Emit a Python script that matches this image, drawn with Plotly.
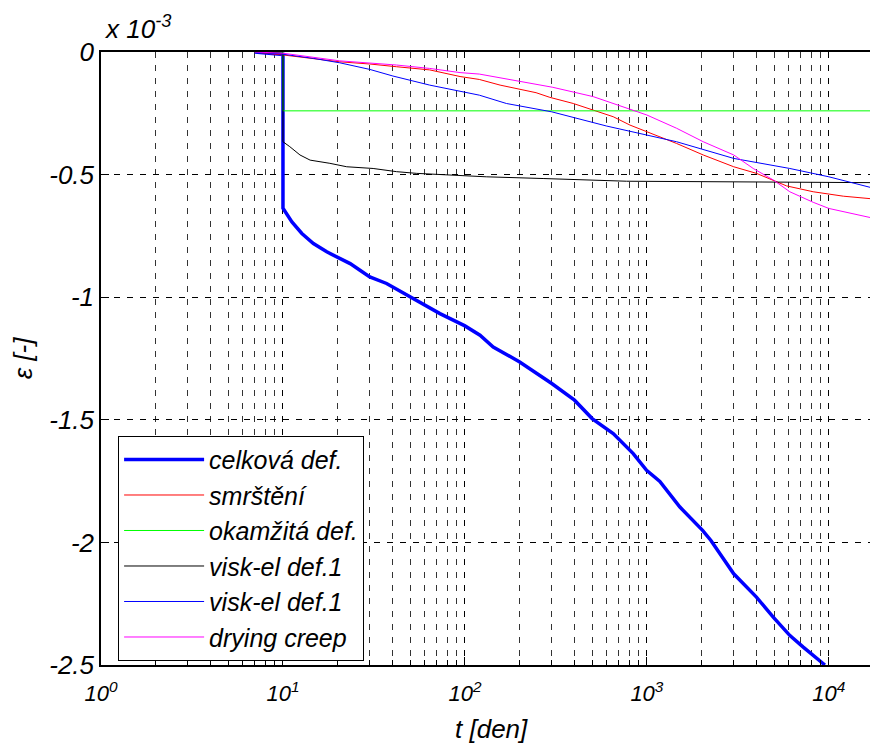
import plotly.graph_objects as go

# values in units of 1e-3
t_total = [7.0, 8.5, 10.0, 10.0, 11.2, 12.7, 14.7, 17.4, 20, 23.4, 26.5, 30, 37.1, 50.5, 60.8, 72.9, 100,
           121, 143, 200, 300, 400, 500, 653, 841, 996, 1178, 1518, 2023, 2248, 3000, 4000, 4946, 6110, 7230, 9510]
v_total = [0.0, -0.005, -0.01, -0.637, -0.693, -0.74, -0.781, -0.815, -0.838, -0.863, -0.89, -0.917, -0.944, -0.999,
           -1.033, -1.067, -1.117, -1.155, -1.203, -1.264, -1.352, -1.42, -1.495, -1.556, -1.638, -1.706, -1.751,
           -1.856, -1.951, -1.992, -2.128, -2.223, -2.305, -2.38, -2.427, -2.5]

t_shrink = [7.0, 10, 20.5, 30, 42, 64, 94, 120, 156, 246, 293, 394, 507, 653, 807, 1000, 1456, 2040, 3000,
            4000, 4950, 5850, 8200, 12000, 18600]
v_shrink = [0.0, -0.012, -0.04, -0.049, -0.06, -0.073, -0.1, -0.112, -0.135, -0.166, -0.185, -0.21, -0.237,
            -0.264, -0.298, -0.325, -0.373, -0.42, -0.468, -0.495, -0.522, -0.546, -0.57, -0.588, -0.601]

t_inst = [7.0, 10.0, 10.0, 18600]
v_inst = [0.0, 0.0, -0.24, -0.24]

t_ve1 = [7.0, 10.0, 10.0, 10.9, 12.4, 14.1, 18.1, 22.4, 31.3, 42.1, 54.3, 82.8, 94, 131, 269, 773, 18600]
v_ve1 = [0.0, -0.005, -0.366, -0.386, -0.42, -0.441, -0.454, -0.468, -0.475, -0.488, -0.495, -0.502, -0.502,
         -0.509, -0.516, -0.527, -0.533]

t_ve2 = [7.0, 10, 14.7, 20.5, 30, 40.2, 64, 94, 120, 169, 300, 601, 1000, 1456, 3000, 6100, 10000, 18600]
v_ve2 = [0.0, -0.009, -0.026, -0.044, -0.071, -0.098, -0.135, -0.162, -0.176, -0.21, -0.244, -0.302, -0.339,
         -0.366, -0.434, -0.475, -0.509, -0.56]

t_dry = [7.0, 10, 20.5, 30, 42, 64, 94, 120, 162, 304, 507, 773, 1000, 1456, 2040, 3000, 3840, 4950, 6100,
         8200, 10000, 18600]
v_dry = [0.0, -0.005, -0.036, -0.045, -0.053, -0.067, -0.084, -0.09, -0.107, -0.144, -0.182, -0.23, -0.257,
         -0.311, -0.366, -0.42, -0.475, -0.522, -0.57, -0.613, -0.638, -0.682]

names = ["celková def.", "smrštění", "okamžitá def.", "visk-el def.1", "visk-el def.1", "drying creep"]

x_major = [1, 10, 100, 1000, 10000]
x_major_text = ["10<sup>0</sup>", "10<sup>1</sup>", "10<sup>2</sup>", "10<sup>3</sup>", "10<sup>4</sup>"]
x_minor = [m * 10 ** k for k in range(0, 5) for m in range(2, 10)]
y_ticks = [0, -0.5, -1, -1.5, -2, -2.5]
y_text = ["0", "-0.5", "-1", "-1.5", "-2", "-2.5"]

FONT = "Liberation Sans, Arial, sans-serif"
FS = 26

fig = go.Figure()
series = [
    (t_total, v_total, "#0000ff", 3.5),
    (t_shrink, v_shrink, "#ff0000", 1),
    (t_inst, v_inst, "#00ff00", 1),
    (t_ve1, v_ve1, "#000000", 1),
    (t_ve2, v_ve2, "#0000ff", 1),
    (t_dry, v_dry, "#ff00ff", 1),
]
for i, (tx, vy, col, w) in enumerate(series):
    fig.add_trace(go.Scatter(x=tx, y=vy, mode="lines", name=names[i],
                             line=dict(color=col, width=w), legendrank=i + 1))

fig.update_layout(
    width=878, height=744,
    margin=dict(l=93, r=8, t=44, b=87),
    paper_bgcolor="white", plot_bgcolor="white",
    font=dict(family=FONT, size=FS, color="black", style="italic"),
    showlegend=True,
    legend=dict(x=0.022, y=0.374, xanchor="left", yanchor="top",
                bgcolor="white", bordercolor="black", borderwidth=1,
                font=dict(family=FONT, size=25, style="italic"),
                itemwidth=80, traceorder="normal"),
    annotations=[
        dict(text="x 10<sup>-3</sup>", xref="paper", yref="paper",
             x=0.0, y=1.0, xanchor="left", yanchor="bottom", showarrow=False,
             xshift=1, yshift=6,
             font=dict(family=FONT, size=FS, style="italic")),
        dict(text="t [den]", xref="paper", yref="paper",
             x=0.503, y=0.0, xanchor="center", yanchor="middle", showarrow=False,
             yshift=-64,
             font=dict(family=FONT, size=FS, style="italic")),
    ],
)

fig.update_xaxes(
    type="log", range=[0, 4.27], automargin=False,
    tickmode="array", tickvals=x_major, ticktext=x_major_text,
    tickfont=dict(family=FONT, size=22, style="italic"),
    ticks="inside", ticklen=8, tickcolor="black", ticklabelstandoff=8,
    showgrid=True, gridcolor="black", griddash="6px,7px", gridwidth=1,
    minor=dict(tickmode="array", tickvals=x_minor, ticks="inside", ticklen=5, tickcolor="black",
               showgrid=True, gridcolor="#333333", griddash="6px,7px", gridwidth=1),
    showline=True, linecolor="black", linewidth=1.5, mirror=True,
    zeroline=False,
)
fig.update_yaxes(
    range=[-2.5, 0], automargin=False,
    tickmode="array", tickvals=y_ticks, ticktext=y_text,
    tickfont=dict(family=FONT, size=FS, style="italic"),
    ticks="inside", ticklen=8, tickcolor="black",
    showgrid=True, gridcolor="black", griddash="6px,7px", gridwidth=1,
    showline=True, linecolor="black", linewidth=1.5, mirror=False,
    zeroline=False,
    title=dict(text="ε [-]", font=dict(family=FONT, size=FS, style="italic"), standoff=16),
)

fig.write_html("out.html")
